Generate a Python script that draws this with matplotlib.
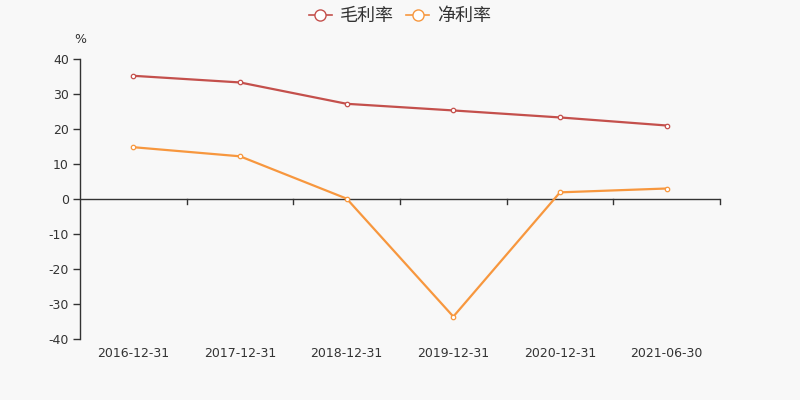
import matplotlib
matplotlib.use("Agg")
import matplotlib.pyplot as plt
from matplotlib.lines import Line2D

plt.rcParams['font.family'] = ['DejaVu Sans', 'Noto Sans CJK SC']

categories = ["2016-12-31", "2017-12-31", "2018-12-31", "2019-12-31", "2020-12-31", "2021-06-30"]
gross_margin = [35.2, 33.3, 27.2, 25.3, 23.3, 21.0]
net_margin = [14.8, 12.2, 0.1, -33.6, 1.9, 3.0]
series_names = ["毛利率", "净利率"]
colors = ["#c4504c", "#f7973e"]
yticks = [-40, -30, -20, -10, 0, 10, 20, 30, 40]

bg = "#f8f8f8"
fig = plt.figure(figsize=(8, 4), dpi=100, facecolor=bg)
ax = fig.add_axes([0.1, 0.1525, 0.8, 0.7])
ax.set_facecolor(bg)

x = list(range(len(categories)))
for vals, c in zip([gross_margin, net_margin], colors):
    ax.plot(x, vals, color=c, lw=1.6, marker='o', ms=3.2, mfc='white', mec=c, mew=0.9, zorder=3)

ax.set_xlim(-0.5, len(categories) - 0.5)
ax.set_ylim(-40, 40)
ax.set_yticks(yticks)
ax.set_yticklabels([str(v) for v in yticks])

for s in ['top', 'right', 'bottom']:
    ax.spines[s].set_visible(False)
ax.spines['left'].set_color('#333333')
ax.spines['left'].set_linewidth(1)
ax.axhline(0, color='#333333', lw=1, zorder=2)
for b in range(1, len(categories) + 1):
    ax.plot([b - 0.5, b - 0.5], [0, -1.5], color='#333333', lw=1, clip_on=False, zorder=2)

ax.set_xticks(x)
ax.set_xticklabels(categories)
ax.tick_params(axis='x', length=0, pad=6, labelsize=9, labelcolor='#333333')
ax.tick_params(axis='y', length=5, width=1, color='#333333', labelsize=9, labelcolor='#333333', pad=3)

ax.text(0.0, 1.045, "%", transform=ax.transAxes, ha='center', va='bottom', fontsize=9, color='#333333')

handles = [Line2D([0], [0], color=c, lw=1.2, marker='o', ms=8, mfc='white', mec=c, mew=1.0) for c in colors]
leg = fig.legend(handles, series_names, loc='upper center', bbox_to_anchor=(0.5, 1.022), ncol=2,
                 frameon=False, fontsize=13, handlelength=1.3, columnspacing=0.65, handletextpad=0.45,
                 labelcolor='#333333')

fig.savefig("out.png", dpi=100, facecolor=bg)
